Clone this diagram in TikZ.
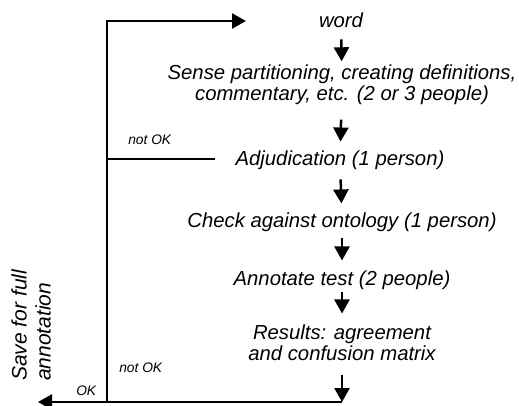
\documentclass[tikz,border=0pt]{standalone}
\usepackage{fontspec}
\setmainfont{Liberation Sans}
\usetikzlibrary{positioning}
\usetikzlibrary{arrows.meta}

\begin{document}
\begin{tikzpicture}[x=1pt, y=-1pt, line width=2.5pt,
            t/.style={font=\fontsize{20.3}{21}\selectfont\itshape, inner sep=2pt, align=center},
            s/.style={font=\fontsize{13.8}{16}\selectfont\itshape, inner sep=0pt},
            a/.style={-{Triangle[length=14pt, width=15pt]}}]
            \useasboundingbox (0,0) rectangle (519,406);

            \node[t, anchor=base] (word) at (341,28) {word};
            \node[t] (sense) at (342,84.5) {Sense partitioning, creating definitions,\\commentary, etc. (2 or 3 people)};
            \node[t, anchor=base] (adj) at (340,166) {Adjudication (1 person)};
            \node[t, anchor=base] (check) at (342,227) {Check against ontology (1 person)};
            \node[t, anchor=base] (annot) at (342,285) {Annotate test (2 people)};
            \node[t] (res) at (342,342.4) {Results: agreement\\and confusion matrix};

            \node[s, anchor=base west] (nok1) at (127,145) {not OK};
            \node[s, anchor=base west] (nok2) at (118,372) {not OK};
            \node[s, anchor=base west] (ok) at (75,395) {OK};
            \node[font=\fontsize{21}{24}\selectfont\itshape, inner sep=0pt, align=left,
                rotate=90, anchor=south west] (save) at (52,382) {Save for full\\annotation};

            \coordinate (topl) at (107,21);
            \coordinate (botl) at (107,402);
            \coordinate (corner) at (342,402);
            \coordinate (okend) at (38,402);
            \coordinate (wordin) at (246,21);
            \coordinate (adjl) at (107,159);

            \draw[a, shorten <=8pt] (word) -- (sense);
            \draw[a, shorten <=12pt, shorten >=6.5pt] (sense) -- (adj);
            \draw[a, shorten <=6pt, shorten >=5.6pt] (adj) -- (check);
            \draw[a, shorten <=4pt, shorten >=6.6pt] (check) -- (annot);
            \draw[a, shorten >=7.7pt] (annot) -- (res);
            \draw[a, shorten <=11pt] (res) -- (corner);
            \draw[a] (corner) -- (okend);
            \draw[a] (botl) -- (topl) -- (wordin);
            \draw[shorten >=17pt] (adjl) -- (adjl -| adj.west);
        \end{tikzpicture}
\end{document}
